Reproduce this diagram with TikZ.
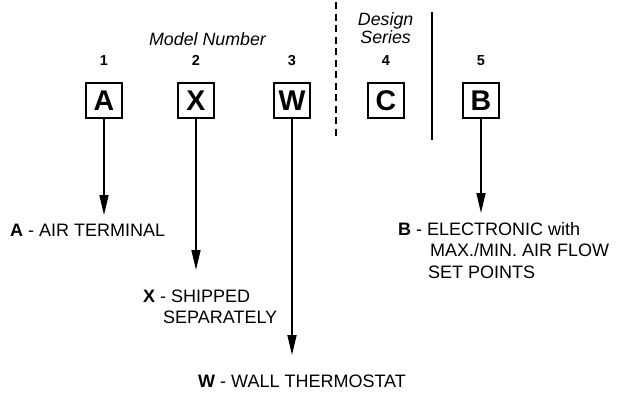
\documentclass[tikz,border=0pt]{standalone}
\usepackage{fontspec}
\setmainfont{Liberation Sans}
\usetikzlibrary{arrows.meta}

\begin{document}
\begin{tikzpicture}[x=1pt,y=-1pt,
  digit/.style={draw,line width=1.6pt,minimum width=36pt,minimum height=35pt,inner sep=0pt,font=\fontsize{28.5}{28.5}\selectfont\bfseries},
  posnum/.style={font=\fontsize{14.5}{16}\selectfont\bfseries,anchor=base},
  head/.style={font=\fontsize{17.8}{18}\selectfont\itshape,anchor=base,align=center},
  desc/.style={font=\fontsize{18}{21.3}\selectfont,anchor=base west,inner sep=0pt,align=left},
  pointer/.style={line width=1.6pt,-{Triangle[length=20pt,width=9pt]}},
  divider/.style={line width=1.6pt}]
 \useasboundingbox (0,0) rectangle (629,392);
 % ---- headings ----
 \node[head] (model) at (207.5,45) {Model Number};
 \node[head] (series) at (385.6,43) {Design\\Series};
 % ---- position numbers and code letters ----
 \foreach \i/\x/\c in {1/104/A, 2/196/X, 3/292/W, 4/386/C, 5/481/B} {
   \node[posnum] (n\i) at (\x,65) {\i};
   \node[digit] (b\c) at (\x,100.5) {\c};}
 % ---- dividers ----
 \coordinate (dtop) at (336,2);   \coordinate (dbot) at (336,140);
 \coordinate (stop) at (432,12);  \coordinate (sbot) at (432,140);
 \draw[divider,dash pattern=on 7pt off 4.5pt] (dtop) -- (dbot);
 \draw[divider] (stop) -- (sbot);
 % ---- meanings (base = last line) ----
 \node[desc] (dA) at (10,236) {\textbf{A} - AIR TERMINAL};
 \node[desc] (dX) at (143,323.3) {\textbf{X} - SHIPPED\\\hspace*{20pt}SEPARATELY};
 \node[desc] (dW) at (198,387.5) {\textbf{W} - WALL THERMOSTAT};
 \node[desc] (dB) at (398,278) {\textbf{B} - ELECTRONIC with\\\hspace*{32pt}MAX./MIN. AIR FLOW\\\hspace*{30pt}SET POINTS};
 % ---- arrow tips ----
 \coordinate (tA) at (104,215);
 \coordinate (tX) at (196,270);
 \coordinate (tW) at (292,355);
 \coordinate (tB) at (481,213);
 \foreach \c in {A,X,W,B}
   \draw[pointer] (b\c.south) -- (t\c);
\end{tikzpicture}
\end{document}
